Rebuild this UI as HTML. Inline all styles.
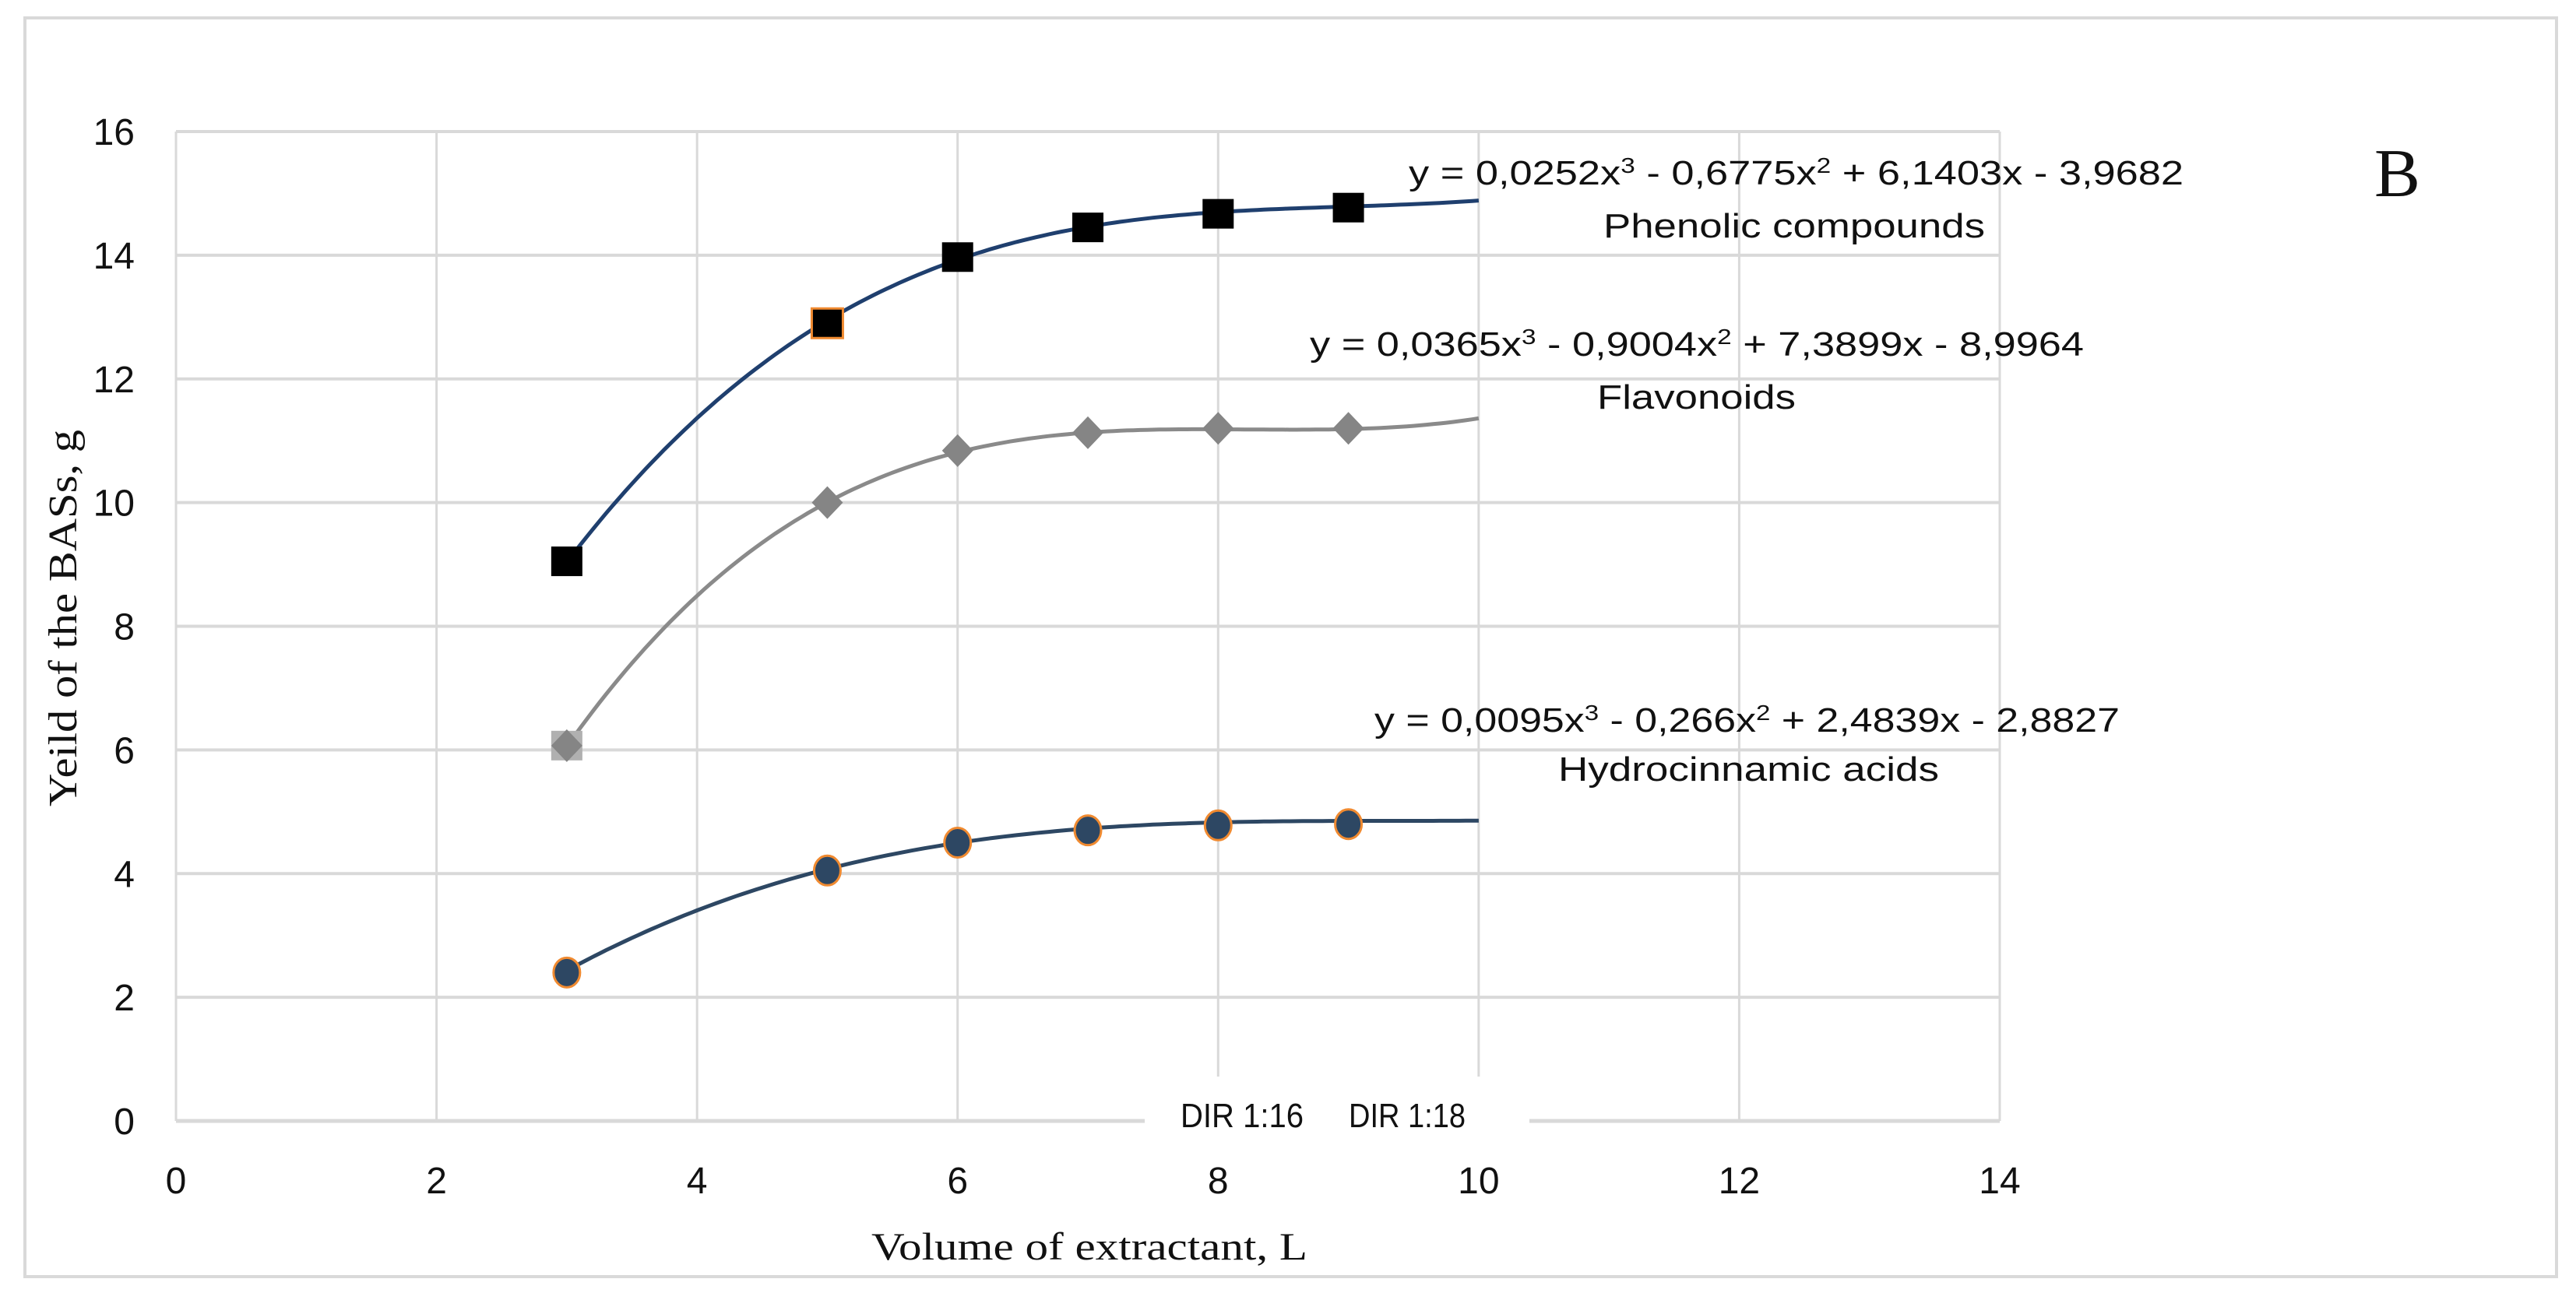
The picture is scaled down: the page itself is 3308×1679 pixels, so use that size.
<!DOCTYPE html>
<html><head><meta charset="utf-8"><style>
html,body{margin:0;padding:0;background:#fff;}
svg{display:block;}
.tick{font-family:"Liberation Sans",sans-serif;font-size:48px;fill:#111;}
.ann{font-family:"Liberation Sans",sans-serif;font-size:44px;fill:#111;}
.serif{font-family:"Liberation Serif",serif;fill:#111;}
</style></head><body>
<svg id="chart" width="3308" height="1679" viewBox="0 0 3308 1679" xmlns="http://www.w3.org/2000/svg">
<rect x="0" y="0" width="3308" height="1679" fill="#fff"/>
<rect x="32" y="23" width="3251" height="1617" fill="none" stroke="#d9d9d9" stroke-width="4"/>
<g id="grid"></g>
<rect x="1470" y="1383" width="494" height="78" fill="#fff"/>
<text class="ann" x="1516" y="1448" font-size="38" textLength="158" lengthAdjust="spacingAndGlyphs">DIR 1:16</text>
<text class="ann" x="1732" y="1448" font-size="38" textLength="150" lengthAdjust="spacingAndGlyphs">DIR 1:18</text>
<g id="ticks"></g>
<g id="series"></g>
<text class="serif" x="1399" y="1618" font-size="50" text-anchor="middle" textLength="560" lengthAdjust="spacingAndGlyphs">Volume of extractant, L</text>
<text class="serif" font-size="52" text-anchor="middle" transform="translate(98,794) rotate(-90)" textLength="484" lengthAdjust="spacingAndGlyphs">Yeild of the BASs, g</text>
<text class="serif" x="3049" y="252" font-size="88" textLength="59" lengthAdjust="spacingAndGlyphs">B</text>
<text class="ann" x="1809" y="237" textLength="995" lengthAdjust="spacingAndGlyphs">y = 0,0252x<tspan baseline-shift="super" font-size="28">3</tspan> - 0,6775x<tspan baseline-shift="super" font-size="28">2</tspan> + 6,1403x - 3,9682</text>
<text class="ann" x="2059" y="305" textLength="490" lengthAdjust="spacingAndGlyphs">Phenolic compounds</text>
<text class="ann" x="1682" y="457" textLength="994" lengthAdjust="spacingAndGlyphs">y = 0,0365x<tspan baseline-shift="super" font-size="28">3</tspan> - 0,9004x<tspan baseline-shift="super" font-size="28">2</tspan> + 7,3899x - 8,9964</text>
<text class="ann" x="2051" y="525" textLength="255" lengthAdjust="spacingAndGlyphs">Flavonoids</text>
<text class="ann" x="1765" y="940" textLength="957" lengthAdjust="spacingAndGlyphs">y = 0,0095x<tspan baseline-shift="super" font-size="28">3</tspan> - 0,266x<tspan baseline-shift="super" font-size="28">2</tspan> + 2,4839x - 2,8827</text>
<text class="ann" x="2001" y="1003" textLength="489" lengthAdjust="spacingAndGlyphs">Hydrocinnamic acids</text>
</svg>
<script>
const xTicks = [0,2,4,6,8,10,12,14];
const yTicks = [0,2,4,6,8,10,12,14,16];
const xValues = [3,5,6,7,8,9];
const phenolic = [9.05,12.9,13.97,14.45,14.67,14.77];
const flavonoids = [6.07,10.0,10.84,11.13,11.2,11.2];
const hydrocinnamic = [2.4,4.05,4.5,4.7,4.78,4.8];
const phenolicCoef = [0.0252,-0.6775,6.1403,-3.9682];
const flavonoidCoef = [0.0365,-0.9004,7.3899,-8.9964];
const hydroCoef = [0.0095,-0.266,2.4839,-2.8827];
const trendRange = [3,10];

const NS="http://www.w3.org/2000/svg";
const X0=226, X1=2568, Y0=1440, Y1=169;
const sx=v=>X0+(v-0)/(14-0)*(X1-X0);
const sy=v=>Y0-(v-0)/(16-0)*(Y0-Y1);
function mk(tag,attrs,parent){const e=document.createElementNS(NS,tag);for(const k in attrs)e.setAttribute(k,attrs[k]);parent.appendChild(e);return e;}
const grid=document.getElementById('grid'), ticks=document.getElementById('ticks'), series=document.getElementById('series');
yTicks.forEach(v=>{
  const l=mk('line',{x1:X0,x2:X1,y1:sy(v),y2:sy(v),stroke:'#d9d9d9','stroke-width':v===0?5:4},grid);
  
  
  const t=mk('text',{x:173,y:sy(v)+17,'text-anchor':'end',class:'tick'},ticks);t.textContent=v;
  
  
});
xTicks.forEach(v=>{
  const l=mk('line',{x1:sx(v),x2:sx(v),y1:Y1,y2:Y0,stroke:'#d9d9d9','stroke-width':3},grid);
  
  
  const t=mk('text',{x:sx(v),y:1533,'text-anchor':'middle',class:'tick'},ticks);t.textContent=v;
  
  
});
function poly(c,x){return c[0]*x*x*x+c[1]*x*x+c[2]*x+c[3];}
function trend(c,color,name){
  let d='';for(let i=0;i<=140;i++){const x=trendRange[0]+(trendRange[1]-trendRange[0])*i/140;d+=(i?'L':'M')+sx(x).toFixed(1)+','+sy(poly(c,x)).toFixed(1);}
  const p=mk('path',{d:d,fill:'none',stroke:color,'stroke-width':5},series);
  
  
}
trend(flavonoidCoef,'#8a8a8a','trendline-flavonoids');
trend(phenolicCoef,'#1f3f6e','trendline-phenolic');
trend(hydroCoef,'#2d4763','trendline-hydrocinnamic');
xValues.forEach((x,i)=>{
  const cx=sx(x), cy=sy(phenolic[i]);
  const r=mk('rect',{x:cx-20,y:cy-19,width:40,height:38,fill:'#000',stroke:i===1?'#f08a30':'none','stroke-width':3},series);
  
  
});
xValues.forEach((x,i)=>{
  const cx=sx(x), cy=sy(flavonoids[i]);
  if(i===0){const b=mk('rect',{x:cx-20,y:cy-19,width:40,height:38,fill:'#b0b0b0'},series);
    
    }
  const p=mk('polygon',{points:`${cx},${cy-21} ${cx+20},${cy} ${cx},${cy+21} ${cx-20},${cy}`,fill:'#858585'},series);
  
  
});
xValues.forEach((x,i)=>{
  const c=mk('ellipse',{cx:sx(x),cy:sy(hydrocinnamic[i]),rx:17,ry:19,fill:'#2d4763',stroke:'#f08a30','stroke-width':3},series);
  
  
});
</script>
</body></html>
